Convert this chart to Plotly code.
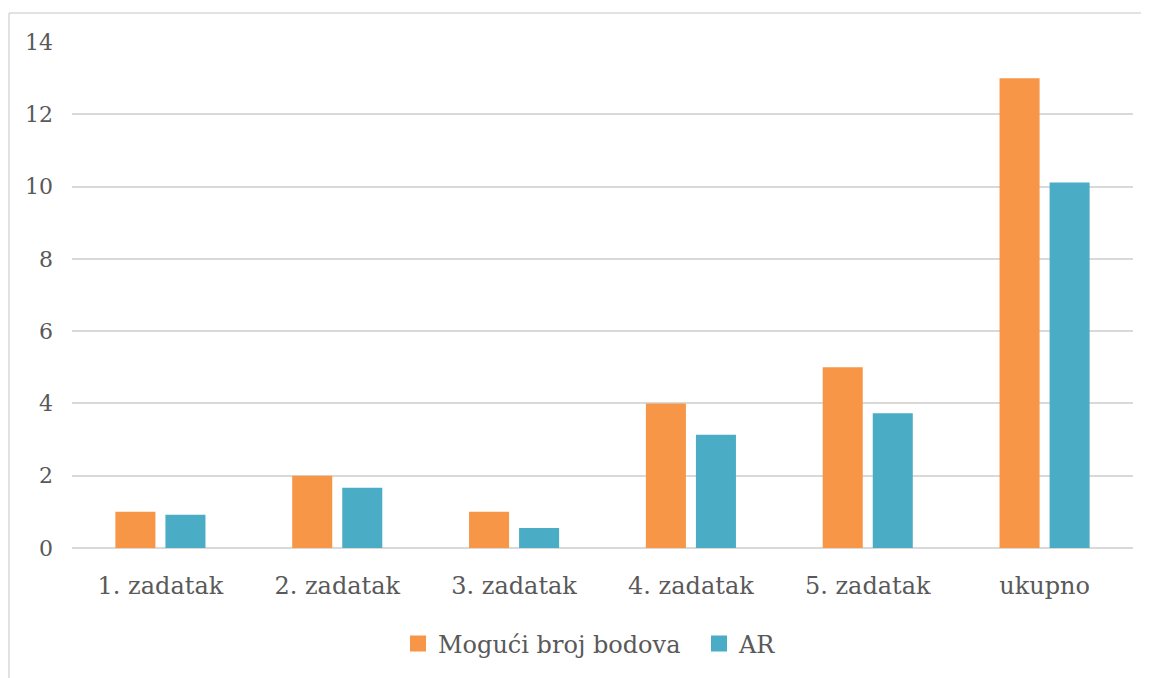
import plotly.graph_objects as go

categories = ["1. zadatak", "2. zadatak", "3. zadatak", "4. zadatak", "5. zadatak", "ukupno"]
moguci_bodovi = [1, 2, 1, 4, 5, 13]
ar_values = [0.92, 1.67, 0.55, 3.13, 3.73, 10.11]
y_ticks = [0, 2, 4, 6, 8, 10, 12, 14]

FONT = "DejaVu Serif"
TEXT = "#595959"
GRID = "#D9D9D9"
ORANGE = "#F79646"
BLUE = "#4BACC6"

fig = go.Figure()
fig.add_trace(go.Bar(x=categories, y=moguci_bodovi, name="Mogući broj bodova",
                     marker=dict(color=ORANGE, line=dict(width=0)), showlegend=False))
fig.add_trace(go.Bar(x=categories, y=ar_values, name="AR",
                     marker=dict(color=BLUE, line=dict(width=0)), showlegend=False))
# legend entries with larger square swatches
fig.add_trace(go.Scatter(x=[None], y=[None], mode="markers", name="Mogući broj bodova",
                         marker=dict(symbol="square", size=16, color=ORANGE)))
fig.add_trace(go.Scatter(x=[None], y=[None], mode="markers", name="AR",
                         marker=dict(symbol="square", size=16, color=BLUE)))

# page has an 8px body margin; page coords of plot area: x 72..1133, y 42..548
W, H = 1133, 670
L, R, T, B = 64, 8, 34, 130
PL, PR, PT, PB = 72, 1133, 42, 548

def px(x):
    return (x - PL) / (PR - PL)

def py(y):
    return (PB - y) / (PB - PT)

fig.update_layout(
    width=W, height=H,
    margin=dict(l=L, r=R, t=T, b=B, autoexpand=False),
    paper_bgcolor="white", plot_bgcolor="white",
    barmode="group", bargap=0.434, bargroupgap=0.2,
    font=dict(family=FONT, size=24, color=TEXT),
    showlegend=True,
    legend=dict(orientation="h", x=px(398), xanchor="left", y=py(644), yanchor="middle",
                font=dict(family=FONT, size=24, color=TEXT), itemwidth=30,
                entrywidth=256, entrywidthmode="pixels", itemsizing="trace",
                traceorder="normal"),
    xaxis=dict(showgrid=False, showline=False, zeroline=False, ticks="", automargin=False,
               tickfont=dict(family=FONT, size=24, color=TEXT), ticklabelstandoff=21),
    yaxis=dict(range=[0, 14], tickvals=y_ticks, showgrid=True, gridcolor=GRID, gridwidth=1.5,
               zeroline=True, zerolinecolor=GRID, zerolinewidth=1.5, showline=False, ticks="",
               automargin=False,
               tickfont=dict(family=FONT, size=22, color=TEXT), ticklabelstandoff=18),
    shapes=[
        dict(type="line", xref="paper", yref="paper", x0=px(9), x1=px(1160), y0=py(13), y1=py(13),
             line=dict(color=GRID, width=1.5)),
        dict(type="line", xref="paper", yref="paper", x0=px(9), x1=px(9), y0=py(13), y1=py(690),
             line=dict(color=GRID, width=1.5)),
    ],
)

fig.write_html("out.html")
